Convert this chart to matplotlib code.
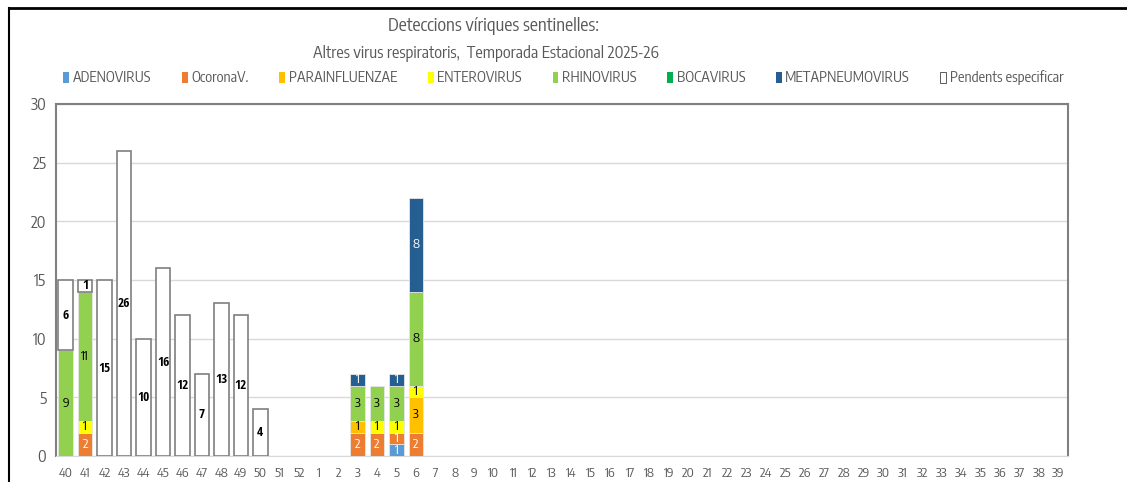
import matplotlib
matplotlib.use('Agg')
import numpy as np
import matplotlib.pyplot as plt
from matplotlib.lines import Line2D
from matplotlib.patches import Patch

plt.rcParams['font.family'] = ['Encode Sans Condensed', 'DejaVu Sans']
BOLD_FONT = ['Open Sans Condensed', 'DejaVu Sans']

# epidemiological weeks of the season
weeks = [str(w) for w in range(40, 53)] + [str(w) for w in range(1, 40)]

series_names = ['ADENOVIRUS', 'OcoronaV.', 'PARAINFLUENZAE', 'ENTEROVIRUS',
                'RHINOVIRUS', 'BOCAVIRUS', 'METAPNEUMOVIRUS', 'Pendents especificar']
series_colors = ['#5B9BD5', '#ED7D31', '#FFC000', '#FFFF00',
                 '#92D050', '#00B050', '#255E91', '#FFFFFF']
label_colors = ['white', 'white', 'black', 'black', 'black', 'white', 'white', 'black']

# counts per week, only the weeks with data (rest are zero)
adenovirus = {'5': 1}
ocoronav = {'41': 2, '3': 2, '4': 2, '5': 1, '6': 2}
parainfluenzae = {'3': 1, '6': 3}
enterovirus = {'41': 1, '4': 1, '5': 1, '6': 1}
rhinovirus = {'40': 9, '41': 11, '3': 3, '4': 3, '5': 3, '6': 8}
bocavirus = {}
metapneumovirus = {'3': 1, '5': 1, '6': 8}
pendents = {'40': 6, '41': 1, '42': 15, '43': 26, '44': 10, '45': 16, '46': 12,
            '47': 7, '48': 13, '49': 12, '50': 4}

series = [adenovirus, ocoronav, parainfluenzae, enterovirus,
          rhinovirus, bocavirus, metapneumovirus, pendents]

fig = plt.figure(figsize=(11.27, 4.82), dpi=100)
ax = fig.add_axes([56 / 1127, 26 / 482, 1012 / 1127, 352 / 482])

x = np.arange(len(weeks))
bottom = np.zeros(len(weeks))
for name, data, color, lc in zip(series_names, series, series_colors, label_colors):
    vals = np.array([data.get(w, 0) for w in weeks], dtype=float)
    pend = name.startswith('Pendents')
    keep = vals > 0
    ax.bar(x[keep], vals[keep], width=0.75, bottom=bottom[keep], color=color,
           edgecolor='#7F7F7F' if pend else '#E6E6E6',
           linewidth=1.2 if pend else 0.6, zorder=3)
    for xi, v, b in zip(x[keep], vals[keep], bottom[keep]):
        if pend:
            ax.text(xi, b + v / 2, f'{int(v)}', ha='center', va='center',
                    fontsize=9.5, color=lc, fontweight='bold', family=BOLD_FONT, zorder=4)
        else:
            ax.text(xi, b + v / 2, f'{int(v)}', ha='center', va='center',
                    fontsize=9.5, color=lc, zorder=4)
    bottom += vals

ax.set_xlim(-0.5, len(weeks) - 0.5)
ax.set_ylim(0, 30)
ax.set_yticks(range(0, 31, 5))
ax.set_xticks(x)
ax.set_xticklabels(weeks)
ax.tick_params(axis='both', length=0, colors='#595959')
ax.tick_params(axis='y', labelsize=11.5, pad=7)
ax.tick_params(axis='x', labelsize=9.5, pad=8)
ax.grid(axis='y', color='#D9D9D9', linewidth=1, zorder=0)
for side in ['left', 'right', 'top']:
    ax.spines[side].set_color('#808080')
    ax.spines[side].set_linewidth(1.5)
ax.spines['bottom'].set_color('#D9D9D9')

handles = [Patch(facecolor=c, edgecolor='#404040' if c == '#FFFFFF' else 'none', linewidth=0.6)
           for c in series_colors]
fig.legend(handles, series_names, loc='center', bbox_to_anchor=(0.5, 1 - 78 / 482),
           ncol=8, frameon=False, fontsize=10.5, handlelength=0.4, handleheight=0.8,
           handletextpad=0.25, columnspacing=2.1, labelcolor='#595959')

fig.text(0.438, 1 - 26 / 482, 'Deteccions víriques sentinelles:', ha='center', va='center',
         fontsize=13, color='#595959')
fig.text(0.431, 1 - 54 / 482, 'Altres virus respiratoris,  Temporada Estacional 2025-26',
         ha='center', va='center', fontsize=11.8, color='#595959')

# outer frame lines
fig.add_artist(Line2D([9 / 1127, 1], [1 - 8 / 482, 1 - 8 / 482], color='black', linewidth=2))
fig.add_artist(Line2D([9 / 1127, 9 / 1127], [0, 1 - 8 / 482], color='black', linewidth=1.5))

fig.savefig('out.png', dpi=100)
